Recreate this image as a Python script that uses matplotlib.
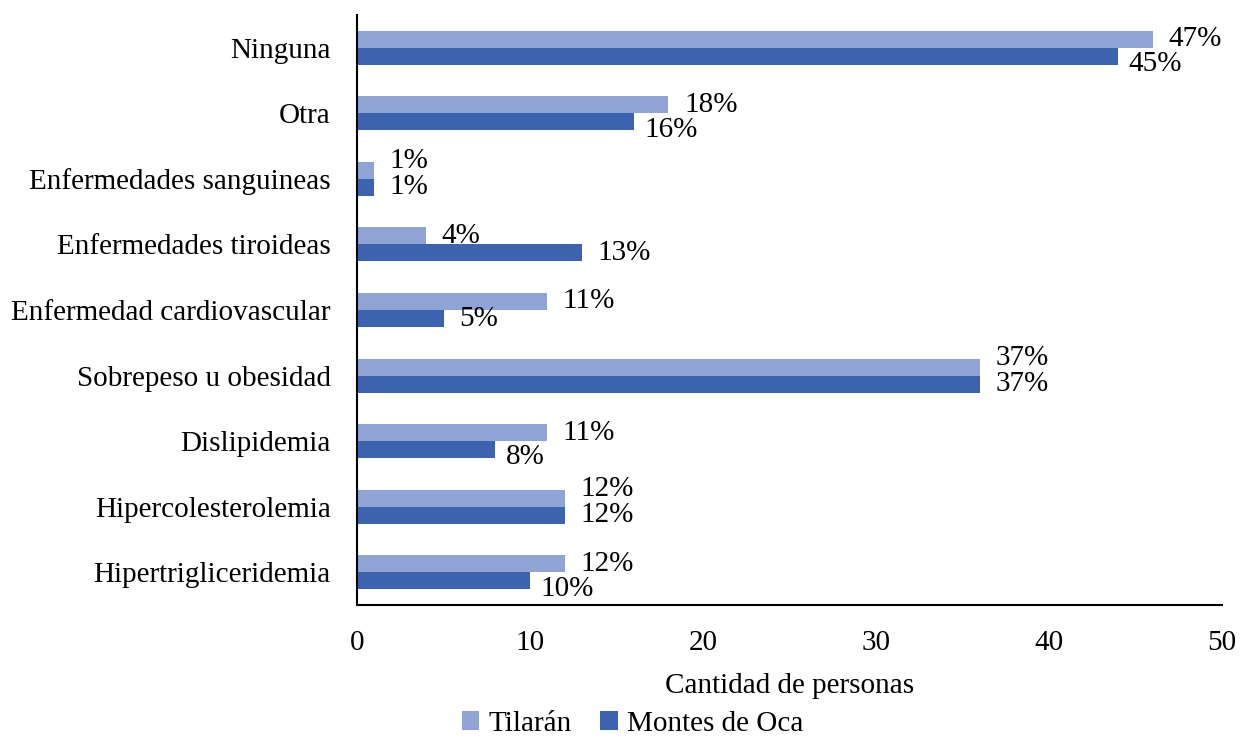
import numpy as np
from matplotlib import pyplot as plt

plt.rcParams['font.family'] = ['Liberation Serif', 'DejaVu Serif']

# Datos (de abajo hacia arriba)
categorias = ['Hipertrigliceridemia', 'Hipercolesterolemia', 'Dislipidemia',
              'Sobrepeso u obesidad', 'Enfermedad cardiovascular',
              'Enfermedades tiroideas', 'Enfermedades sanguineas', 'Otra', 'Ninguna']
tilaran = [12, 12, 11, 36, 11, 4, 1, 18, 46]
montes = [10, 12, 8, 36, 5, 13, 1, 16, 44]
pct_tilaran = ['12%', '12%', '11%', '37%', '11%', '4%', '1%', '18%', '47%']
pct_montes = ['10%', '12%', '8%', '37%', '5%', '13%', '1%', '16%', '45%']

c_til = '#8FA3D5'
c_mon = '#3C64AE'
fs = 21

fig = plt.figure(figsize=(12.4, 7.38), dpi=100)
ax = fig.add_axes([357 / 1240, 1 - 605 / 738, 865 / 1240, 590 / 738])

y = np.arange(len(categorias))
h = 0.26
ax.barh(y + h / 2, tilaran, height=h, color=c_til, label='Tilarán')
ax.barh(y - h / 2, montes, height=h, color=c_mon, label='Montes de Oca')

# Etiquetas: se desplazan un poco cuando chocan entre si
for i in range(len(categorias)):
    dy_t, dx_m, dy_m = 0, 0.9, 0
    diff = tilaran[i] - montes[i]
    if diff == 0:
        dy_t = 0.14
    elif 0 < diff <= 3:
        dx_m, dy_m = 0.6, -0.12
    ax.text(tilaran[i] + 0.9, y[i] + h / 2 + dy_t, pct_tilaran[i],
            fontsize=fs, va='center', ha='left')
    ax.text(montes[i] + dx_m, y[i] - h / 2 + dy_m, pct_montes[i],
            fontsize=fs, va='center', ha='left')

ax.set_yticks(y)
ax.set_yticklabels(categorias, fontsize=fs)
ax.set_xlim(0, 50)
ax.set_ylim(-0.5, 8.5)
ax.set_xticks([0, 10, 20, 30, 40, 50])
ax.tick_params(axis='x', labelsize=fs, length=0, pad=18)
ax.tick_params(axis='y', length=0, pad=19)
ax.spines['top'].set_visible(False)
ax.spines['right'].set_visible(False)
ax.spines['left'].set_linewidth(1.5)
ax.spines['bottom'].set_linewidth(1.5)
ax.set_xlabel('Cantidad de personas', fontsize=fs, labelpad=12)

fig.legend(loc='center', bbox_to_anchor=(0.51, 1 - 724 / 738), ncol=2, frameon=False,
           fontsize=fs, handlelength=0.6, handleheight=0.6, handletextpad=0.3,
           columnspacing=1.0, borderpad=0)

fig.savefig('out.png', dpi=100)
